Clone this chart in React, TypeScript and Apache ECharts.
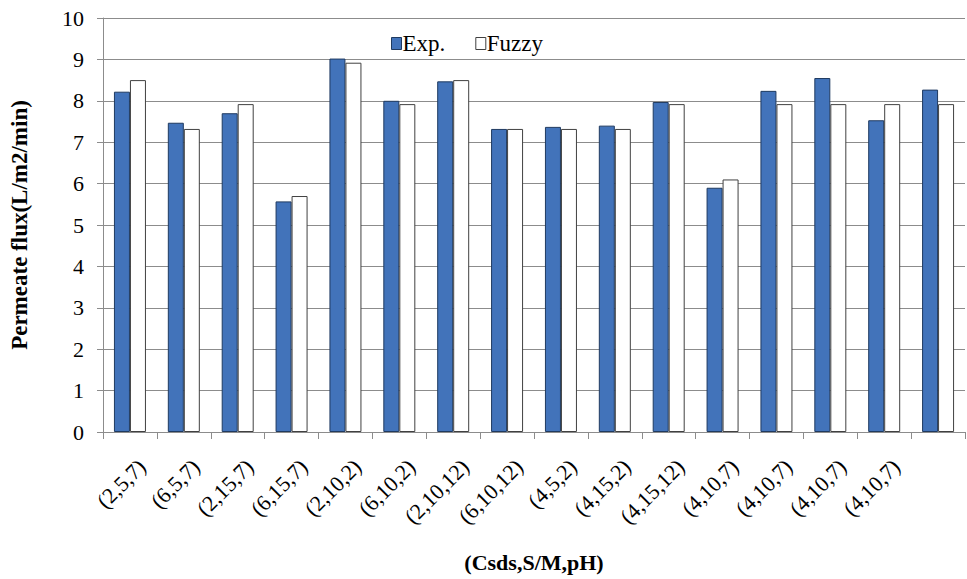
import React, { useEffect, useRef } from "react";
import * as echarts from "echarts";

const categories = [
  "(2,5,7)", "(6,5,7)", "(2,15,7)", "(6,15,7)", "(2,10,2)", "(6,10,2)",
  "(2,10,12)", "(6,10,12)", "(4,5,2)", "(4,15,2)", "(4,15,12)", "(4,10,7)",
  "(4,10,7)", "(4,10,7)", "(4,10,7)", "",
];
const expValues = [8.22, 7.47, 7.7, 5.57, 9.02, 8.0, 8.47, 7.32, 7.37, 7.4, 7.97, 5.9, 8.24, 8.55, 7.53, 8.27];
const fuzzyValues = [8.5, 7.32, 7.92, 5.7, 8.92, 7.92, 8.5, 7.32, 7.32, 7.32, 7.92, 6.1, 7.92, 7.92, 7.92, 7.92];
const yTicks = { min: 0, max: 10, interval: 1 };

const FONT = "Times New Roman, Liberation Serif, serif";

export default function App() {
  const ref = useRef<HTMLDivElement>(null);
  useEffect(() => {
    if (!ref.current) return;
    const chart = echarts.init(ref.current, undefined, { renderer: "svg", width: 967, height: 579 });
    chart.setOption({
      animation: false,
      backgroundColor: "#ffffff",
      textStyle: { fontFamily: FONT },
      grid: { left: 101, right: 2, top: 18, bottom: 147, containLabel: false },
      legend: {
        left: 386,
        top: 27,
        itemGap: 30,
        itemWidth: 10,
        itemHeight: 12,
        icon: "rect",
        textStyle: { fontFamily: FONT, fontSize: 23, color: "#000", padding: [0, 0, 0, -4] },
        data: [
          { name: "Exp.", itemStyle: { color: "#4273BA", borderColor: "#1f3a60", borderWidth: 1 } },
          { name: "Fuzzy", itemStyle: { color: "#ffffff", borderColor: "#404040", borderWidth: 1 } },
        ],
      },
      xAxis: {
        type: "category",
        data: categories,
        name: "(Csds,S/M,pH)",
        nameLocation: "middle",
        nameGap: 119,
        nameTextStyle: { fontFamily: FONT, fontSize: 22, fontWeight: "bold", color: "#000" },
        axisLine: { show: true, lineStyle: { color: "#8c8c8c", width: 1 } },
        axisTick: { show: true, alignWithLabel: false, interval: 0, length: 7, lineStyle: { color: "#8c8c8c" } },
        axisLabel: {
          interval: 0,
          rotate: 45,
          margin: 19,
          verticalAlign: "top",
          padding: [6, 0, 0, 0],
          fontFamily: FONT,
          fontSize: 22,
          color: "#000",
        },
      },
      yAxis: {
        type: "value",
        min: yTicks.min,
        max: yTicks.max,
        interval: yTicks.interval,
        name: "Permeate flux(L/m2/min)",
        nameLocation: "middle",
        nameGap: 72,
        nameRotate: 90,
        nameTextStyle: { fontFamily: FONT, fontSize: 23, fontWeight: "bold", color: "#000" },
        axisLine: { show: true, lineStyle: { color: "#8c8c8c", width: 1 } },
        axisTick: { show: true, length: 6, lineStyle: { color: "#8c8c8c" } },
        axisLabel: { margin: 19, fontFamily: FONT, fontSize: 22, color: "#000" },
        splitLine: { show: true, lineStyle: { color: "#8c8c8c", width: 1 } },
      },
      series: [
        {
          name: "Exp.",
          type: "bar",
          data: expValues,
          barWidth: 16,
          barGap: "0%",
          itemStyle: { color: "#4273BA", borderColor: "#1f3a60", borderWidth: 1 },
        },
        {
          name: "Fuzzy",
          type: "bar",
          data: fuzzyValues,
          barWidth: 16,
          barGap: "0%",
          itemStyle: { color: "#ffffff", borderColor: "#404040", borderWidth: 1 },
        },
      ],
    });
    return () => chart.dispose();
  }, []);
  return (
    <div
      ref={ref}
      style={{ position: "fixed", left: 0, top: 0, width: 967, height: 579 }}
    />
  );
}
